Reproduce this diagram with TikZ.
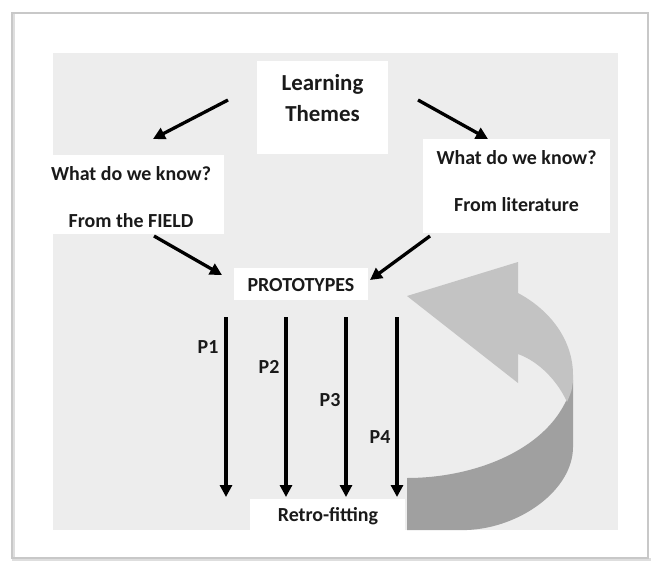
\documentclass[tikz,border=0pt]{standalone}
\usepackage{fontspec}
\setmainfont{Carlito}
\usetikzlibrary{arrows.meta}
\definecolor{panel}{HTML}{EDEDED}
\definecolor{ribbonlight}{HTML}{C3C3C3}
\definecolor{ribbondark}{HTML}{A0A0A0}
\definecolor{framegray}{HTML}{C8C8C8}
\definecolor{txtcol}{HTML}{1A1A1A}
\tikzset{
  wbox/.style={fill=white, draw=none, inner sep=0pt},
  txt/.style={font=\fontsize{20}{48}\selectfont\bfseries, text=txtcol, align=center, inner sep=0pt},
  plabel/.style={font=\fontsize{20}{24}\selectfont\bfseries, text=txtcol, inner sep=0pt},
  arr/.style={line width=3.3bp, draw=black, -{Triangle[width=12bp,length=12bp]}}
}
\begin{document}
\begin{tikzpicture}[x=1bp,y=-1bp]
\useasboundingbox (0,0) rectangle (651,563);
% page frame with soft shadow
\fill[white] (0,0) rectangle (651,563);
\draw[framegray!60, line width=3bp] (13,14) -- (13,559) -- (651,559);
\draw[framegray, line width=1.2bp] (12,13) rectangle (648,558);
% panel
\fill[panel] (53,53) rectangle (618,530);
% boxes
\node[wbox, minimum width=131bp, minimum height=93bp] (lt) at (322.5,107.5) {};
\node[txt, font=\fontsize{23}{31}\selectfont\bfseries] (ltt) at (322.5,98) {Learning\\Themes};
\node[wbox, minimum width=186bp, minimum height=79bp] (fb) at (131,194.5) {};
\node[txt] (fbt) at (131,197) {What do we know?\\From the FIELD};
\node[wbox, minimum width=187bp, minimum height=94bp] (lb) at (516.5,186) {};
\node[txt] (lbt) at (516.5,181) {What do we know?\\From literature};
\node[wbox, minimum width=134bp, minimum height=32bp] (pb) at (301,284) {};
\node[txt] (pbt) at (301,285) {PROTOTYPES};
\node[wbox, minimum width=155bp, minimum height=31bp] (rb) at (327.5,514.5) {};
% curved ribbon arrow
\fill[ribbondark] (407,478) .. controls (480,478) and (560,445) .. (573,380)
  -- (573,447) .. controls (573,490) and (520,528) .. (467,530) -- (407,530) -- cycle;
\fill[ribbonlight] (407,296) -- (518,262) -- (518,293)
  .. controls (550,310) and (573,340) .. (573,375)
  -- (573,380) .. controls (572,390) .. (567,402)
  .. controls (558,382) and (540,362) .. (518,354)
  -- (518,383) -- cycle;
\node[txt] (rbt) at (328,516) {Retro-fitting};
% arrow end points
\coordinate (a1s) at (228,100); \coordinate (a1e) at (153,139);
\coordinate (a2s) at (418,100); \coordinate (a2e) at (488,139);
\coordinate (a3s) at (154,236); \coordinate (a3e) at (222,275);
\coordinate (a4s) at (430,236); \coordinate (a4e) at (370,280);
\draw[arr] (a1s) -- (a1e);
\draw[arr] (a2s) -- (a2e);
\draw[arr] (a3s) -- (a3e);
\draw[arr] (a4s) -- (a4e);
\foreach \i/\x in {1/226,2/286,3/346,4/397}{
  \coordinate (v\i s) at (\x,317);
  \coordinate (v\i e) at (\x,497);
  \draw[arr] (v\i s) -- (v\i e);
}
% labels
\node[plabel] (p1) at (208,347) {P1};
\node[plabel] (p2) at (269,367) {P2};
\node[plabel] (p3) at (330,400) {P3};
\node[plabel] (p4) at (380,437) {P4};
\end{tikzpicture}
\end{document}
